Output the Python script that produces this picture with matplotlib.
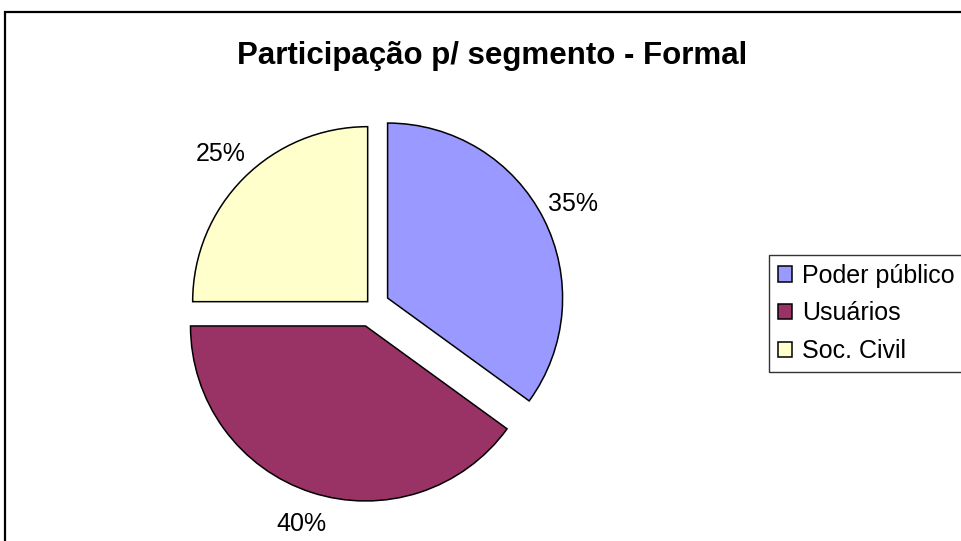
import matplotlib
matplotlib.use("Agg")
import matplotlib.pyplot as plt
from matplotlib.patches import Rectangle

plt.rcParams['font.family'] = ['Liberation Sans', 'DejaVu Sans']

title = "Participação p/ segmento - Formal"
categories = ["Poder público", "Usuários", "Soc. Civil"]
values = [35, 40, 25]
colors = ["#9999FF", "#993366", "#FFFFCC"]

W, H = 962, 541
fig = plt.figure(figsize=(W / 100, H / 100), dpi=100)

# outer frame
fig.patches.append(Rectangle((5 / W, -0.05), 1.1, 1 - 12 / H + 0.05,
                             transform=fig.transFigure, fill=False,
                             edgecolor="black", linewidth=1.6, zorder=0))

# pie axes: center at (372, 306) px, radius 175 px
R = 175
lim = 1.3
side = 2 * lim * R
cx, cy = 372, H - 306
ax = fig.add_axes([(cx - side / 2) / W, (cy - side / 2) / H, side / W, side / H])
wedges, _, autotexts = ax.pie(values, colors=colors, startangle=90, counterclock=False,
                              explode=[0.10, 0.12, 0.035], radius=1.0,
                              autopct=lambda p: f"{p:.0f}%", pctdistance=1.19,
                              wedgeprops=dict(edgecolor="black", linewidth=1.1),
                              textprops=dict(fontsize=18, color="black"))
ax.set_xlim(-lim, lim)
ax.set_ylim(-lim, lim)
ax.set_aspect("equal")
ax.axis("off")
for t in autotexts:
    t.set_clip_on(False)

fig.text(492 / W, 1 - 56 / H, title, ha="center", va="center",
         fontsize=22.5, fontweight="bold")

leg = fig.legend(wedges, categories, loc="upper left",
                 bbox_to_anchor=(769 / W, 1 - 255 / H), borderaxespad=0,
                 fontsize=18, frameon=True, fancybox=False, shadow=False,
                 handlelength=0.56, handleheight=0.56, handletextpad=0.42,
                 labelspacing=0.55, borderpad=0.35)
leg.get_frame().set_edgecolor("black")
leg.get_frame().set_linewidth(1.0)

fig.savefig("out.png", dpi=100)
